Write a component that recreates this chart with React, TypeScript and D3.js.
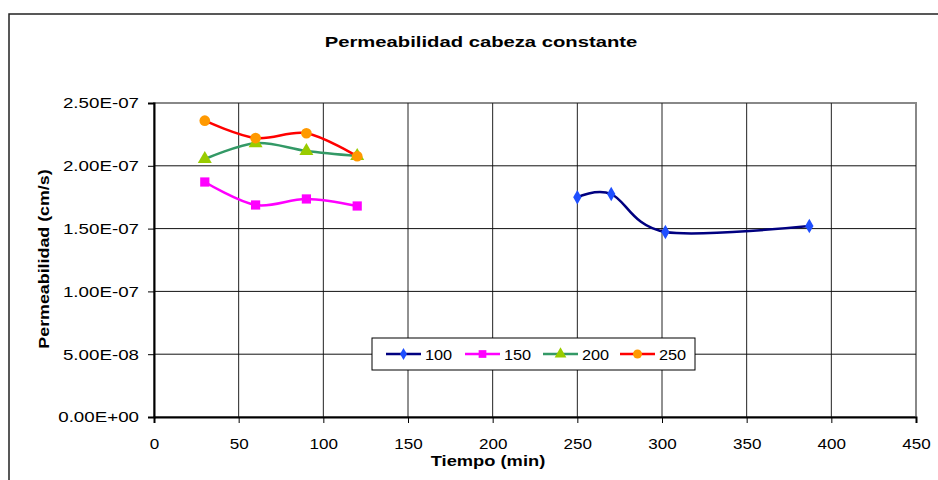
import React, { useEffect, useRef } from "react";
import * as d3 from "d3";

const xTicks = [0, 50, 100, 150, 200, 250, 300, 350, 400, 450];
const yTicks = [0, 5e-8, 1e-7, 1.5e-7, 2e-7, 2.5e-7];
const yTickLabels = ["0.00E+00", "5.00E-08", "1.00E-07", "1.50E-07", "2.00E-07", "2.50E-07"];

const time100 = [250, 270, 302, 387];
const perm100 = [1.75e-7, 1.775e-7, 1.473e-7, 1.521e-7];
const time150 = [30, 60, 90, 120];
const perm150 = [1.871e-7, 1.688e-7, 1.736e-7, 1.68e-7];
const time200 = [30, 60, 90, 120];
const perm200 = [2.054e-7, 2.18e-7, 2.118e-7, 2.078e-7];
const time250 = [30, 60, 90, 120];
const perm250 = [2.359e-7, 2.221e-7, 2.259e-7, 2.076e-7];

const seriesNames = ["100", "150", "200", "250"];

// the original text is wider than Arial: stretch glyphs horizontally around the anchor
function stretch(sel: d3.Selection<any, any, any, any>, k: number) {
  sel.each(function () {
    const el = d3.select(this as SVGTextElement);
    const px = (+el.attr("x") || 0) + (parseFloat(el.attr("dx") || "0") || 0);
    el.attr("transform", `translate(${px * (1 - k)},0) scale(${k},1)`);
  });
}

export default function App() {
  const svgRef = useRef<SVGSVGElement | null>(null);

  useEffect(() => {
    const svg = d3.select(svgRef.current);
    svg.selectAll("*").remove();

    const width = 938, height = 480;
    const margin = { top: 103, right: 22, bottom: 63, left: 154 };
    const font = "'Liberation Sans', Arial, sans-serif";

    const x = d3.scaleLinear().domain([0, 450]).range([margin.left, width - margin.right]);
    const y = d3.scaleLinear().domain([0, 2.5e-7]).range([height - margin.bottom, margin.top]);

    // outer chart border
    svg.append("rect")
      .attr("x", 9).attr("y", 14).attr("width", width + 10).attr("height", height + 10)
      .attr("fill", "white").attr("stroke", "#222").attr("stroke-width", 1.5);

    // plot area border
    svg.append("rect")
      .attr("x", margin.left).attr("y", margin.top)
      .attr("width", x(450) - margin.left).attr("height", y(0) - margin.top)
      .attr("fill", "white").attr("stroke", "#888").attr("stroke-width", 2);

    // gridlines
    svg.append("g").selectAll("line").data(xTicks.slice(1, -1)).enter().append("line")
      .attr("x1", d => x(d)).attr("x2", d => x(d))
      .attr("y1", margin.top).attr("y2", y(0))
      .attr("stroke", "#222").attr("stroke-width", 1);
    svg.append("g").selectAll("line").data(yTicks.slice(1, -1)).enter().append("line")
      .attr("x1", margin.left).attr("x2", x(450))
      .attr("y1", d => y(d)).attr("y2", d => y(d))
      .attr("stroke", "#111").attr("stroke-width", 1);

    // axes
    const yAxis = svg.append("g").attr("transform", `translate(${margin.left},0)`)
      .call(d3.axisLeft(y).tickValues(yTicks).tickSize(6).tickFormat((_, i) => yTickLabels[i]));
    yAxis.select(".domain").attr("stroke", "#000").attr("stroke-width", 2);
    yAxis.selectAll(".tick line").attr("stroke", "#000");
    yAxis.selectAll("text").attr("font-family", font).attr("font-size", 15).attr("fill", "#000").attr("dx", -6);
    stretch(yAxis.selectAll("text"), 1.25);

    const xAxis = svg.append("g").attr("transform", `translate(0,${y(0)})`)
      .call(d3.axisBottom(x).tickValues(xTicks).tickSize(6).tickFormat(d3.format("d")));
    xAxis.select(".domain").attr("stroke", "#000").attr("stroke-width", 2);
    xAxis.selectAll(".tick line").attr("stroke", "#000");
    xAxis.selectAll("text").attr("font-family", font).attr("font-size", 15.5).attr("fill", "#000").attr("dy", "1.5em");
    stretch(xAxis.selectAll("text"), 1.1);

    // titles
    const title = svg.append("text").attr("x", 481).attr("y", 47).attr("text-anchor", "middle")
      .attr("font-family", font).attr("font-size", 15).attr("font-weight", "bold")
      .text("Permeabilidad cabeza constante");
    stretch(title, 1.35);
    const xTitle = svg.append("text").attr("x", 488).attr("y", 466).attr("text-anchor", "middle")
      .attr("font-family", font).attr("font-size", 15).attr("font-weight", "bold")
      .text("Tiempo (min)");
    stretch(xTitle, 1.22);
    svg.append("text").attr("transform", `translate(49,259) rotate(-90) scale(1.19,1)`).attr("text-anchor", "middle")
      .attr("font-family", font).attr("font-size", 15).attr("font-weight", "bold")
      .text("Permeabilidad (cm/s)");

    const line = d3.line<[number, number]>()
      .x(d => x(d[0])).y(d => y(d[1]))
      .curve(d3.curveCardinal.tension(0));

    const series = [
      { t: time100, v: perm100, stroke: "#000080", fill: "#1f4fff", marker: d3.symbolDiamond, size: 60 },
      { t: time150, v: perm150, stroke: "#ff00ff", fill: "#ff00ff", marker: d3.symbolSquare, size: 85 },
      { t: time200, v: perm200, stroke: "#339966", fill: "#99cc00", marker: d3.symbolTriangle, size: 85 },
      { t: time250, v: perm250, stroke: "#ff0000", fill: "#ff9900", marker: d3.symbolCircle, size: 90 },
    ];

    series.forEach(s => {
      const pts = s.t.map((t, i) => [t, s.v[i]] as [number, number]);
      svg.append("path").attr("d", line(pts)).attr("fill", "none")
        .attr("stroke", s.stroke).attr("stroke-width", 2.5);
      svg.append("g").selectAll("path").data(pts).enter().append("path")
        .attr("transform", d => `translate(${x(d[0])},${y(d[1])})`)
        .attr("d", d3.symbol().type(s.marker).size(s.size)())
        .attr("fill", s.fill);
    });

    // legend
    const lg = svg.append("g").attr("transform", "translate(372,338)");
    lg.append("rect").attr("width", 323).attr("height", 32)
      .attr("fill", "white").attr("stroke", "#000").attr("stroke-width", 1);
    const itemX = [14, 93, 171, 248];
    series.forEach((s, i) => {
      const g = lg.append("g").attr("transform", `translate(${itemX[i]},16)`);
      g.append("line").attr("x1", 0).attr("x2", 35).attr("stroke", s.stroke).attr("stroke-width", 2.5);
      g.append("path").attr("transform", "translate(17.5,0)")
        .attr("d", d3.symbol().type(s.marker).size(s.size * 0.7)()).attr("fill", s.fill);
      const tx = g.append("text").attr("x", 39).attr("y", 6).attr("font-family", font).attr("font-size", 15.5)
        .text(seriesNames[i]);
      stretch(tx, 1.05);
    });
  }, []);

  return <svg ref={svgRef} width={938} height={480} style={{ position: "absolute", left: 0, top: 0 }}></svg>;
}
